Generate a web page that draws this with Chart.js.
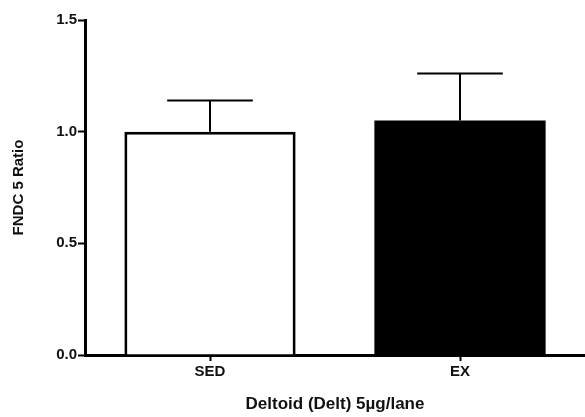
<!DOCTYPE html>
<html>
<head>
<meta charset="utf-8">
<script src="https://cdn.jsdelivr.net/npm/chart.js@4/dist/chart.umd.min.js"></script>
<style>
    html, body { margin: 0; padding: 0; background: #fff; }
    #wrap { width: 585px; height: 417px; }
</style>
</head>
<body>
<div id="wrap"><canvas id="fndcChart" width="585" height="417"></canvas></div>
<script>
// values
const groups = ['SED', 'EX'];
const means = [1.0, 1.05];
const sems = [0.14, 0.21];
const barFills = ['#ffffff', '#000000'];
const yTicks = [0, 0.5, 1.0, 1.5];

const FONT = "'Liberation Sans', Arial, sans-serif";

// draws the upward error bar (mean + sem) over each bar
const errorBars = {
    id: 'errorBars',
    afterDatasetsDraw(chart) {
        const ctx = chart.ctx;
        const yScale = chart.scales.y;
        const meta = chart.getDatasetMeta(0);
        ctx.save();
        ctx.strokeStyle = '#000';
        ctx.lineWidth = 2;
        meta.data.forEach((bar, i) => {
            const top = yScale.getPixelForValue(means[i] + sems[i]);
            const half = bar.width / 4;
            ctx.beginPath();
            ctx.moveTo(bar.x, bar.y);
            ctx.lineTo(bar.x, top);
            ctx.moveTo(bar.x - half, top);
            ctx.lineTo(bar.x + half, top);
            ctx.stroke();
        });
        ctx.restore();
    }
};

const ctx = document.getElementById('fndcChart').getContext('2d');
new Chart(ctx, {
    type: 'bar',
    data: {
        labels: groups,
        datasets: [{
            data: means,
            backgroundColor: barFills,
            borderColor: '#000',
            borderWidth: [3, 0],
            borderSkipped: 'bottom',
            barPercentage: 0.685,
            categoryPercentage: 1.0
        }]
    },
    options: {
        responsive: false,
        animation: false,
        layout: { padding: { top: 20, right: 0, left: 0, bottom: 0 } },
        plugins: {
            legend: { display: false },
            tooltip: { enabled: false }
        },
        scales: {
            x: {
                offset: true,
                afterFit: scale => { scale.height = 62; },
                grid: {
                    offset: false,
                    drawOnChartArea: false,
                    drawTicks: true,
                    tickLength: 6,
                    tickColor: '#000',
                    tickWidth: 2
                },
                border: { display: true, color: '#000', width: 3 },
                ticks: {
                    color: '#111',
                    padding: 2,
                    font: { family: FONT, size: 15, weight: 'bold' }
                },
                title: {
                    display: true,
                    text: 'Deltoid (Delt) 5µg/lane',
                    color: '#111',
                    padding: { top: 4, bottom: 2 },
                    font: { family: FONT, size: 17, weight: 'bold' }
                }
            },
            y: {
                min: 0,
                max: 1.5,
                afterFit: scale => { scale.width = 85; },
                afterBuildTicks: scale => { scale.ticks = yTicks.map(v => ({ value: v })); },
                grid: {
                    drawOnChartArea: false,
                    drawTicks: true,
                    tickLength: 7,
                    tickColor: '#000',
                    tickWidth: 2
                },
                border: { display: true, color: '#000', width: 3 },
                ticks: {
                    color: '#111',
                    padding: 1,
                    font: { family: FONT, size: 15, weight: 'bold' },
                    callback: v => Number(v).toFixed(1)
                },
                title: {
                    display: true,
                    text: 'FNDC 5 Ratio',
                    color: '#111',
                    padding: { top: 10, bottom: 0 },
                    font: { family: FONT, size: 15, weight: 'bold' }
                }
            }
        }
    },
    plugins: [errorBars]
});
</script>
</body>
</html>
